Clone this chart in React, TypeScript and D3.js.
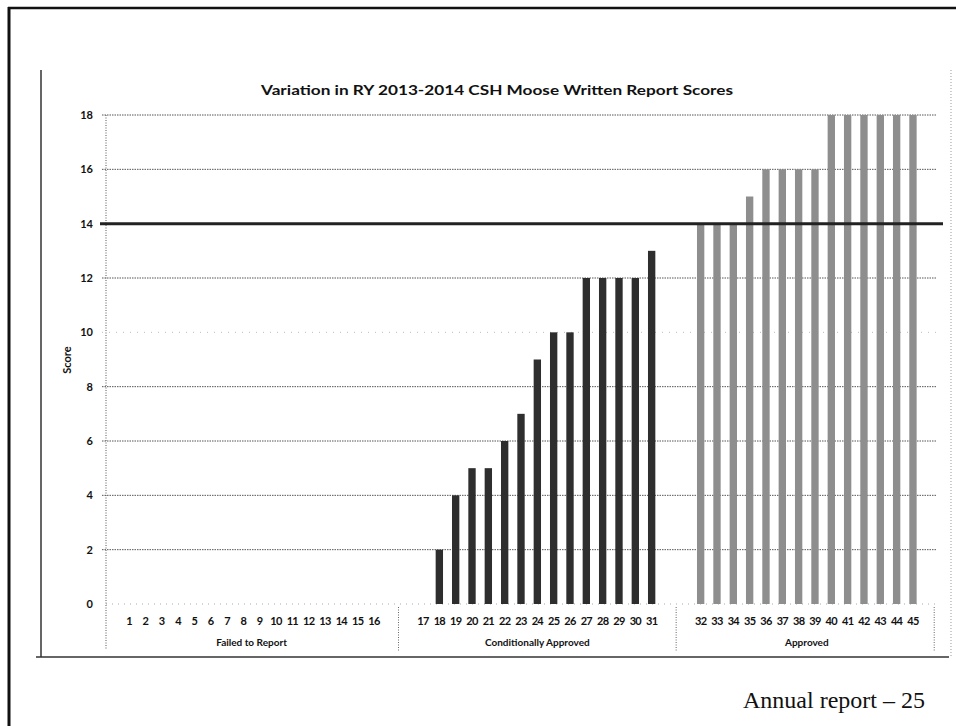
import {default as React, useEffect, useRef} from "react";
import * as d3 from "d3";

// category labels per group, as printed under the axis
const groupNames = ["Failed to Report", "Conditionally Approved", "Approved"];
const failedCats = ["1", "2", "3", "4", "5", "6", "7", "8", "9", "10", "11", "12", "13", "14", "15", "16"];
const conditionalCats = ["17", "18", "19", "20", "21", "22", "23", "24", "25", "26", "27", "28", "29", "30", "31"];
const approvedCats = ["32", "33", "34", "35", "36", "37", "38", "39", "40", "41", "42", "43", "44", "45"];

// scores
const failedScores = [0, 0, 0, 0, 0, 0, 0, 0, 0, 0, 0, 0, 0, 0, 0, 0];
const conditionalScores = [0, 2, 4, 5, 5, 6, 7, 9, 10, 10, 12, 12, 12, 12, 13];
const approvedScores = [14, 14, 14, 15, 16, 16, 16, 16, 18, 18, 18, 18, 18, 18];

const yTicks = [0, 2, 4, 6, 8, 10, 12, 14, 16, 18];
const passScore = 14;

const title = "Variation in RY 2013-2014 CSH Moose Written Report Scores";
const footer = "Annual report \u2013 25";

const W = 956;
const H = 726;
const LABEL_FONT = "Lato, 'Open Sans', sans-serif";

function App(): JSX.Element {
    const svgRef = useRef<SVGSVGElement>(null);

    useEffect(() => {
        if (!svgRef.current) return;
        const svg = d3.select(svgRef.current);
        svg.selectAll("*").remove();

        // two blank slots between the groups
        const slots = [...failedCats, "gapA1", "gapA2", ...conditionalCats, "gapB1", "gapB2", ...approvedCats];
        const groups = [
            {name: groupNames[0], cats: failedCats, scores: failedScores, fill: "#2e2e2e"},
            {name: groupNames[1], cats: conditionalCats, scores: conditionalScores, fill: "#2e2e2e"},
            {name: groupNames[2], cats: approvedCats, scores: approvedScores, fill: "#8e8e8e"},
        ];

        const plotLeft = 106, plotRight = 936, plotTop = 115, plotBottom = 604;
        const x = d3.scalePoint<string>().domain(slots).range([plotLeft, plotRight]).padding(1.41);
        const y = d3.scaleLinear().domain([0, 18]).range([plotBottom, plotTop]);
        const barW = x.step() * 0.45;

        // page frame (scanned document edge)
        svg.append("line").attr("x1", 9).attr("x2", 9).attr("y1", 7).attr("y2", H)
            .attr("stroke", "#111").attr("stroke-width", 3);
        svg.append("line").attr("x1", 8).attr("x2", W).attr("y1", 8).attr("y2", 8)
            .attr("stroke", "#111").attr("stroke-width", 2.5);

        // chart area border
        svg.append("line").attr("x1", 41).attr("x2", 41).attr("y1", 70).attr("y2", 657)
            .attr("stroke", "#333").attr("stroke-width", 1.5);
        svg.append("line").attr("x1", 36).attr("x2", 949).attr("y1", 657).attr("y2", 657)
            .attr("stroke", "#333").attr("stroke-width", 1.5);
        svg.append("line").attr("x1", 951).attr("x2", 951).attr("y1", 70).attr("y2", 657)
            .attr("stroke", "#999").attr("stroke-width", 1).attr("stroke-dasharray", "1,2");

        // title
        svg.append("text")
            .attr("x", 497).attr("y", 95)
            .attr("text-anchor", "middle")
            .attr("font-family", LABEL_FONT).attr("font-weight", "bold").attr("font-size", 14)
            .attr("textLength", 472).attr("lengthAdjust", "spacingAndGlyphs")
            .attr("fill", "#111")
            .text(title);

        // gridlines
        svg.append("g").selectAll("line")
            .data(yTicks.filter(t => t > 0))
            .enter().append("line")
            .attr("x1", plotLeft - 4).attr("x2", plotRight)
            .attr("y1", d => y(d)).attr("y2", d => y(d))
            .attr("stroke", d => d === 10 ? "#bbb" : "#555")
            .attr("stroke-width", 1)
            .attr("stroke-dasharray", d => d === 10 ? "1,6" : "1.5,1");
        // faint baseline
        svg.append("line").attr("x1", plotLeft).attr("x2", plotRight)
            .attr("y1", y(0)).attr("y2", y(0))
            .attr("stroke", "#aaa").attr("stroke-dasharray", "1,5");

        // y axis
        svg.append("line").attr("x1", plotLeft).attr("x2", plotLeft)
            .attr("y1", plotTop).attr("y2", 650)
            .attr("stroke", "#555").attr("stroke-dasharray", "1,1.5");
        svg.append("g").selectAll("text")
            .data(yTicks)
            .enter().append("text")
            .attr("x", 93).attr("y", d => y(d) + 4)
            .attr("text-anchor", "end")
            .attr("font-family", LABEL_FONT).attr("font-weight", "bold").attr("font-size", 11)
            .attr("fill", "#111")
            .text(d => d);
        svg.append("text")
            .attr("transform", `translate(71, 360) rotate(-90)`)
            .attr("text-anchor", "middle")
            .attr("font-family", LABEL_FONT).attr("font-weight", "bold").attr("font-size", 11)
            .attr("fill", "#111")
            .text("Score");

        // bars
        groups.forEach(group => {
            svg.append("g").selectAll("rect")
                .data(group.cats.map((c, i) => ({cat: c, score: group.scores[i]})))
                .enter().append("rect")
                .attr("x", d => (x(d.cat) || 0) - barW / 2)
                .attr("width", barW)
                .attr("y", d => y(d.score))
                .attr("height", d => y(0) - y(d.score))
                .attr("fill", group.fill);
        });

        // passing score line
        svg.append("line")
            .attr("x1", plotLeft - 6).attr("x2", 943)
            .attr("y1", y(passScore)).attr("y2", y(passScore))
            .attr("stroke", "#222").attr("stroke-width", 3);

        // category labels
        svg.append("g").selectAll("text")
            .data(slots.filter(s => !s.startsWith("gap")))
            .enter().append("text")
            .attr("x", d => x(d) || 0).attr("y", 625)
            .attr("text-anchor", "middle")
            .attr("font-family", LABEL_FONT).attr("font-weight", "bold").attr("font-size", 11)
            .attr("letter-spacing", -0.7)
            .attr("fill", "#111")
            .text(d => d);

        // group labels and separators
        const step = x.step();
        groups.forEach(group => {
            const first = x(group.cats[0]) || 0;
            const last = x(group.cats[group.cats.length - 1]) || 0;
            svg.append("text")
                .attr("x", (first + last) / 2).attr("y", 646)
                .attr("text-anchor", "middle")
                .attr("font-family", LABEL_FONT).attr("font-weight", "bold").attr("font-size", 10)
                .attr("fill", "#111")
                .text(group.name);
        });
        const separators = [
            ((x("gapA1") || 0) + (x("gapA2") || 0)) / 2,
            ((x("gapB1") || 0) + (x("gapB2") || 0)) / 2,
            (x(approvedCats[approvedCats.length - 1]) || 0) + step * 1.3,
        ];
        svg.append("g").selectAll("line")
            .data(separators)
            .enter().append("line")
            .attr("x1", d => d).attr("x2", d => d)
            .attr("y1", 607).attr("y2", 652)
            .attr("stroke", "#666").attr("stroke-dasharray", "1,1.5");

        // page footer
        svg.append("text")
            .attr("x", 925).attr("y", 708)
            .attr("text-anchor", "end")
            .attr("font-family", "'Liberation Serif', 'DejaVu Serif', serif").attr("font-size", 24)
            .attr("fill", "#111")
            .text(footer);
    }, []);

    return (
        <svg
            ref={svgRef}
            width={W}
            height={H}
            style={{position: "absolute", left: 0, top: 0, background: "#fff"}}
        />
    );
}

export default App;
